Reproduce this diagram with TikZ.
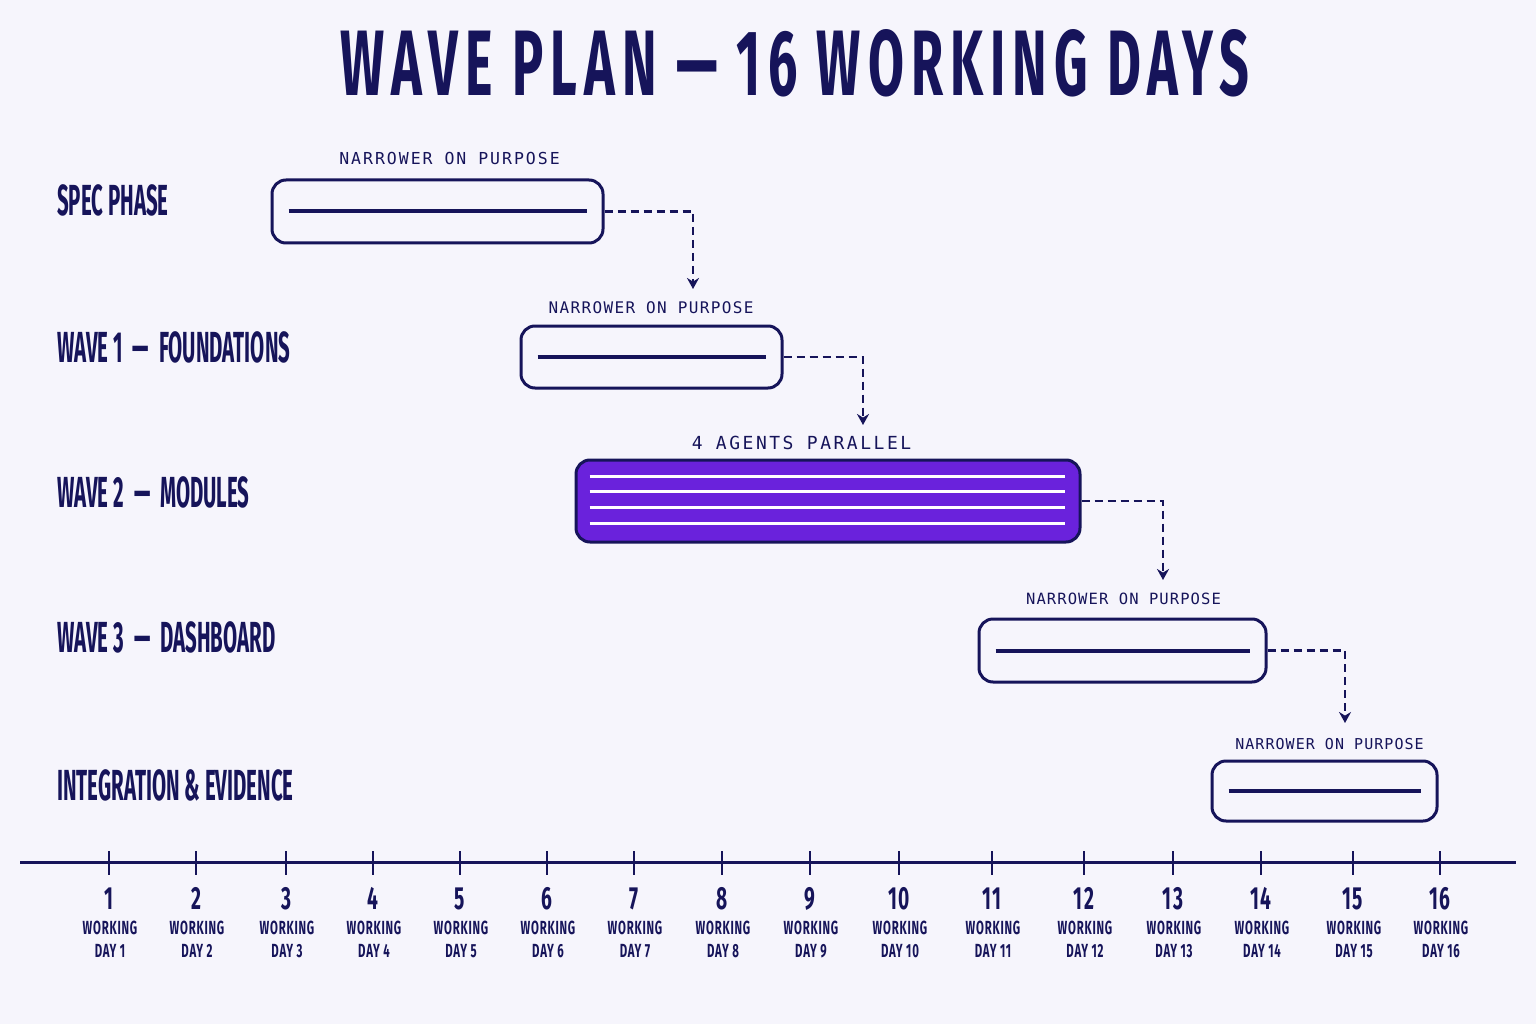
\documentclass[tikz,border=0pt]{standalone}
\usepackage{fontspec}
\usetikzlibrary{arrows.meta}
\newfontfamily\titlef[FakeStretch=0.56,LetterSpace=7.6]{Fira Sans}
\newfontfamily\rowf[FakeStretch=0.47]{Fira Sans}
\newfontfamily\dayf[FakeStretch=0.6,LetterSpace=4]{Fira Sans}
\newfontfamily\capf{DejaVu Sans Mono}
\newcommand{\rdash}{\hspace{10pt}—\hspace{10pt}}
\definecolor{navy}{HTML}{16145A}
\definecolor{bgc}{HTML}{F6F5FC}
\definecolor{purp}{HTML}{6A22DC}
\tikzset{
  bar/.style={draw=navy, line width=3pt, rounded corners=14pt, fill=bgc, inner sep=0pt},
  pbar/.style={bar, fill=purp},
  inline/.style={navy, line width=4pt},
  wline/.style={white, line width=3pt},
  conn/.style={navy, line width=2.4pt, dash pattern=on 8pt off 5pt, -{Stealth[length=11pt,width=12pt]}},
  rowlab/.style={anchor=base west, inner sep=0pt, text=navy, font=\rowf\bfseries\fontsize{43.5}{43.5}\selectfont},
  caplab/.style={anchor=base, inner sep=0pt, text=navy},
  daynum/.style={anchor=base, inner sep=0pt, text=navy, font=\dayf\bfseries\fontsize{32}{32}\selectfont},
  daytxt/.style={anchor=base, inner sep=0pt, text=navy, font=\dayf\bfseries\fontsize{19}{19}\selectfont},
  axis/.style={navy, line width=3pt},
  tickm/.style={navy, line width=2pt}
}
\begin{document}
\begin{tikzpicture}[x=1pt,y=-1pt]
\fill[bgc] (0,0) rectangle (1536,1024);
\useasboundingbox (0,0) rectangle (1536,1024);

% title
\node[anchor=base, inner sep=0pt, text=navy, font=\titlef\bfseries\fontsize{93}{93}\selectfont] (title) at (795,96) {WAVE PLAN — 16 WORKING DAYS};

% row labels
\node[rowlab] (l1) at (57,216) {SPEC PHASE};
\node[rowlab] (l2) at (57,362) {WAVE 1\rdash FOUNDATIONS};
\node[rowlab] (l3) at (57,507) {WAVE 2\rdash MODULES};
\node[rowlab] (l4) at (57,652) {WAVE 3\rdash DASHBOARD};
\node[rowlab] (l5) at (57,800) {INTEGRATION \& EVIDENCE};

% bars
\node[bar, minimum width=331pt, minimum height=63pt] (spec) at (437.5,211.5) {};
\node[bar, minimum width=261pt, minimum height=62pt] (b1) at (651.5,357) {};
\node[pbar, minimum width=504pt, minimum height=82pt] (b2) at (828,501) {};
\node[bar, minimum width=287pt, minimum height=63pt] (b3) at (1122.5,650.5) {};
\node[bar, minimum width=225pt, minimum height=60pt] (b4) at (1324.5,791) {};

% inner lines
\draw[inline] ([xshift=18pt]spec.west) -- ([xshift=-18pt]spec.east);
\draw[inline] ([xshift=18pt]b1.west) -- ([xshift=-18pt]b1.east);
\draw[inline] ([xshift=18pt]b3.west) -- ([xshift=-18pt]b3.east);
\draw[inline] ([xshift=18pt]b4.west) -- ([xshift=-18pt]b4.east);
\foreach \dy in {-22,-6,10,25}{
  \draw[wline] ([xshift=15pt,yshift=\dy pt]b2.west) -- ([xshift=-17pt,yshift=\dy pt]b2.east);
}

% captions
\node[caplab, font=\capf\addfontfeatures{LetterSpace=12}\fontsize{16.5}{16.5}\selectfont] (c1) at (449.5,165) {NARROWER ON PURPOSE};
\node[caplab, font=\capf\addfontfeatures{LetterSpace=8.5}\fontsize{16}{16}\selectfont] (c2) at (651,313) {NARROWER ON PURPOSE};
\node[caplab, font=\capf\addfontfeatures{LetterSpace=14}\fontsize{18}{18}\selectfont] (c3) at (801.5,449) {4 AGENTS PARALLEL};
\node[caplab, font=\capf\addfontfeatures{LetterSpace=7}\fontsize{15.5}{15.5}\selectfont] (c4) at (1123.5,604) {NARROWER ON PURPOSE};
\node[caplab, font=\capf\addfontfeatures{LetterSpace=7}\fontsize{15}{15}\selectfont] (c5) at (1329.5,749) {NARROWER ON PURPOSE};

% connectors
\coordinate (e1) at (693,289);
\coordinate (e2) at (863,425);
\coordinate (e3) at (1163,580);
\coordinate (e4) at (1345,723);
\draw[conn] (spec.east) -| (e1);
\draw[conn] (b1.east) -| (e2);
\draw[conn] (b2.east) -| (e3);
\draw[conn] (b3.east) -| (e4);

% axis
\coordinate (axL) at (20,862);
\coordinate (axR) at (1516,862);
\draw[axis] (axL) -- (axR);
\foreach \x [count=\i] in {109,196,286,373,460,547,634,722,810,899,992,1084,1173,1261,1353,1440}{
  \draw[tickm] (\x,851) -- (\x,875);
  \node[daynum] (n\i) at (\x,909) {\i};
  \node[daytxt] (wk\i) at (\x+1,934) {WORKING};
  \node[daytxt] (d\i) at (\x+1,957) {DAY \i};
}
\end{tikzpicture}
\end{document}
